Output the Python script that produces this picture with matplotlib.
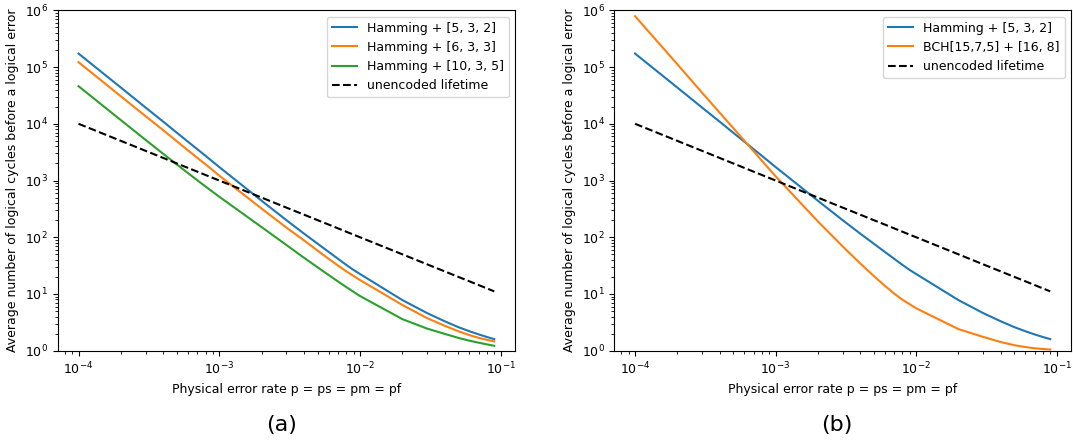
import matplotlib
matplotlib.use('Agg')
import matplotlib.pyplot as plt

# physical error rate grid
p = [1e-4, 2e-4, 3e-4, 4e-4, 5e-4, 6e-4, 7e-4, 8e-4, 9e-4,
     1e-3, 2e-3, 3e-3, 4e-3, 5e-3, 6e-3, 7e-3, 8e-3, 9e-3,
     1e-2, 2e-2, 3e-2, 4e-2, 5e-2, 6e-2, 7e-2, 8e-2, 9e-2]

hamming_532 = [1.73e5, 4.35e4, 1.93e4, 1.09e4, 6.95e3, 4.82e3, 3.55e3, 2.72e3, 2.14e3,
               1730, 440, 200, 116, 77, 55, 41.5, 32.5, 26.5,
               22.5, 7.8, 4.6, 3.3, 2.6, 2.2, 1.93, 1.74, 1.6]
hamming_633 = [1.22e5, 3.05e4, 1.36e4, 7.7e3, 4.9e3, 3.4e3, 2.5e3, 1.92e3, 1.52e3,
               1220, 320, 148, 88, 58, 41.5, 31.5, 25, 20.8,
               17.6, 6.4, 3.75, 2.75, 2.2, 1.88, 1.68, 1.55, 1.46]
hamming_1035 = [4.6e4, 1.16e4, 5.19e3, 2.95e3, 1.915e3, 1.35e3, 1.006e3, 783, 629,
                518, 151, 73, 43.5, 29.5, 21.5, 16.5, 13.2, 10.9,
                9.2, 3.6, 2.45, 1.98, 1.68, 1.5, 1.38, 1.29, 1.22]
bch_168 = [7.9e5, 1.12e5, 3.53e4, 1.57e4, 8.4e3, 5.0e3, 3.25e3, 2.22e3, 1.6e3,
           1190, 190, 69, 34.6, 20.7, 13.9, 10.1, 7.9, 6.6,
           5.6, 2.4, 1.75, 1.42, 1.25, 1.16, 1.1, 1.07, 1.05]
unencoded = [1e4, 5e3, 3333, 2500, 2000, 1667, 1429, 1250, 1111,
             1000, 500, 333, 250, 200, 167, 143, 125, 111,
             100, 50, 33.3, 25, 20, 16.7, 14.3, 12.5, 11.1]

plt.rcParams['font.family'] = ['DejaVu Sans']
plt.rcParams['font.size'] = 9

fig = plt.figure(figsize=(10.73, 4.42), dpi=100)
ax1 = fig.add_axes([0.0538, 0.2066, 0.4262, 0.770])
ax2 = fig.add_axes([0.5725, 0.2066, 0.4256, 0.770])

panels = [
    (ax1, [(hamming_532, 'Hamming + [5, 3, 2]'),
           (hamming_633, 'Hamming + [6, 3, 3]'),
           (hamming_1035, 'Hamming + [10, 3, 5]')]),
    (ax2, [(hamming_532, 'Hamming + [5, 3, 2]'),
           (bch_168, 'BCH[15,7,5] + [16, 8]')]),
]

for ax, series in panels:
    for vals, lab in series:
        ax.plot(p, vals, lw=1.5, label=lab)
    ax.plot(p, unencoded, 'k--', lw=1.5, label='unencoded lifetime')
    ax.set_xscale('log')
    ax.set_yscale('log')
    ax.set_ylim(1, 1e6)
    ax.set_xlabel('Physical error rate p = ps = pm = pf')
    ax.set_ylabel('Average number of logical cycles before a logical error')
    ax.legend(loc='upper right')

fig.text(0.262, 0.025, '(a)', fontsize=16, ha='center')
fig.text(0.78, 0.025, '(b)', fontsize=16, ha='center')

fig.savefig('out.png', dpi=100)
